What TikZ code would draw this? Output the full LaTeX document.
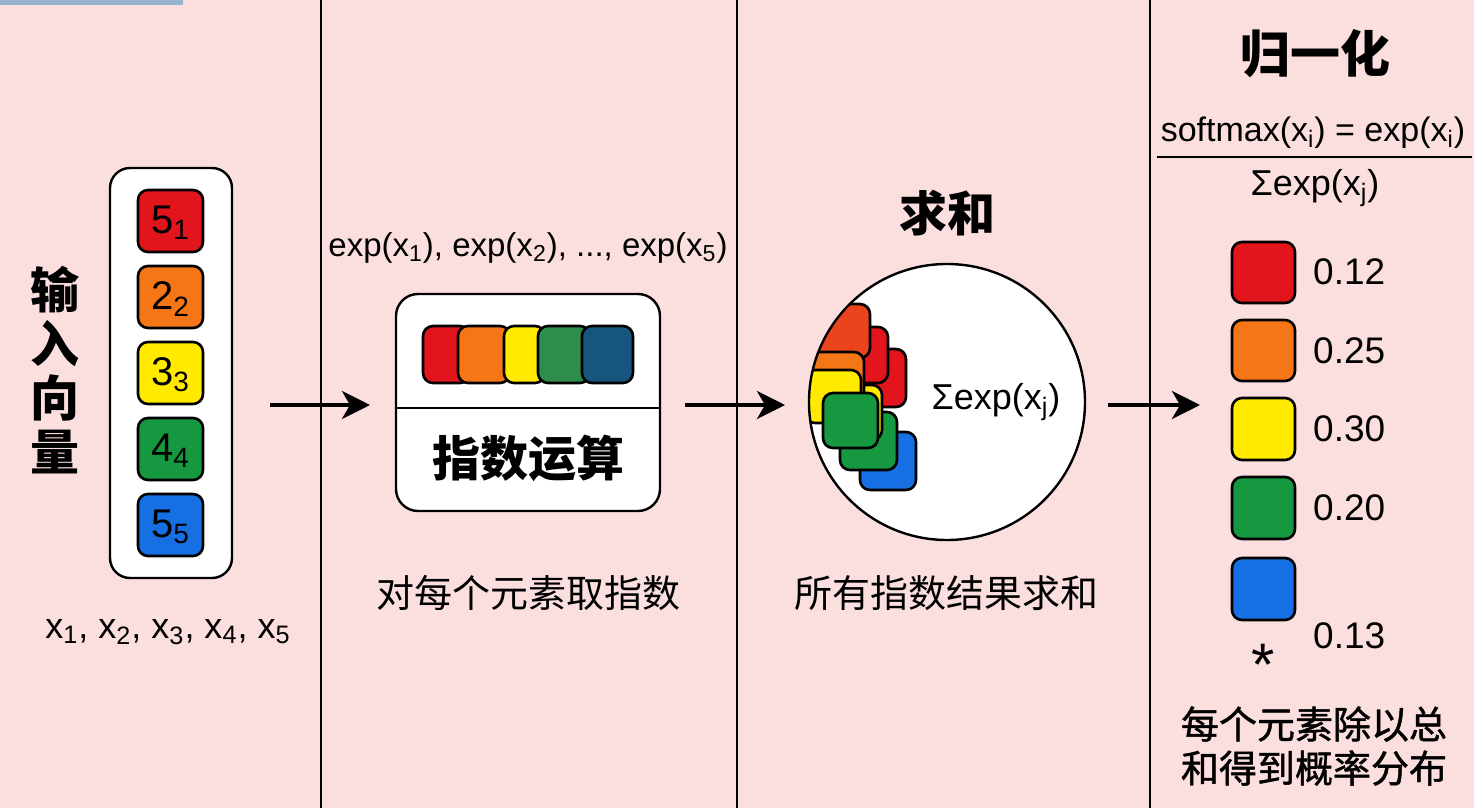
\documentclass[tikz,border=0pt]{standalone}
\usepackage{fontspec}
\setmainfont{Liberation Sans}
\newfontfamily\cjk{Noto Sans CJK SC}
\newfontfamily\cjkheavy{Noto Sans CJK SC}[FakeBold=1.2]
\usetikzlibrary{arrows.meta}
\definecolor{bgpink}{RGB}{250,223,222}
\definecolor{stripblue}{RGB}{150,180,205}
\definecolor{cred}{RGB}{226,20,28}
\definecolor{credtop}{RGB}{234,68,30}
\definecolor{corange}{RGB}{245,118,22}
\definecolor{cyellow}{RGB}{255,234,0}
\definecolor{cgreen}{RGB}{22,152,64}
\definecolor{cblue}{RGB}{22,112,228}
\definecolor{dgreen}{RGB}{46,140,76}
\definecolor{dblue}{RGB}{22,86,126}
\tikzset{
  chip/.style={draw=black, line width=1.3pt, rounded corners=5pt},
  flow/.style={line width=2pt, -{Stealth[length=14pt, width=14pt, inset=4pt]}},
  title/.style={inner sep=0pt, font=\cjk\bfseries\fontsize{24}{28}\selectfont},
  note/.style={inner sep=0pt, font=\cjk\fontsize{19}{22}\selectfont},
  formula/.style={inner sep=0pt, font=\fontsize{18}{21}\selectfont},
  digit/.style={inner sep=0pt, font=\fontsize{20}{22}\selectfont},
  prob/.style={inner sep=0pt, anchor=west, font=\fontsize{18.5}{21}\selectfont}
}
\begin{document}
\begin{tikzpicture}[x=0.5pt, y=-0.5pt, line width=1.2pt]
\fill[bgpink] (0,0) rectangle (1474,808);
\useasboundingbox (0,0) rectangle (1474,808);
\fill[stripblue] (0,0) rectangle (183,5);
% panel dividers
\draw[line width=1pt] (321,0) -- (321,808);
\draw[line width=1pt] (737,0) -- (737,808);
\draw[line width=1pt] (1150,0) -- (1150,808);
% Input
\begin{scope}
  \node[title, align=center, font=\cjk\bfseries\fontsize{24.5}{27}\selectfont] (intitle) at (55,370) {输\\入\\向\\量};
  \draw[fill=white, rounded corners=10pt] (110,168) rectangle (232,578);
  \draw[chip, fill=cred] (138,190) rectangle (203,252);
  \draw[chip, fill=corange] (138,266) rectangle (203,328);
  \draw[chip, fill=cyellow] (138,342) rectangle (203,404);
  \draw[chip, fill=cgreen] (138,418) rectangle (203,480);
  \draw[chip, fill=cblue] (138,494) rectangle (203,556);
  \node[digit] (v1) at (170.5,223) {5\textsubscript{1}};
  \node[digit] (v2) at (170.5,299) {2\textsubscript{2}};
  \node[digit] (v3) at (170.5,375) {3\textsubscript{3}};
  \node[digit] (v4) at (170.5,451) {4\textsubscript{4}};
  \node[digit] (v5) at (170.5,527) {5\textsubscript{5}};
  \node[formula] (inlist) at (168,632) {x\textsubscript{1}, x\textsubscript{2}, x\textsubscript{3}, x\textsubscript{4}, x\textsubscript{5}};
\end{scope}
\coordinate (a1s) at (270,405);
\coordinate (a1e) at (370,405);
\draw[flow] (a1s) -- (a1e);
% Exp
\begin{scope}
  \node[formula, font=\fontsize{16.5}{20}\selectfont] (explist) at (528,248) {exp(x\textsubscript{1}), exp(x\textsubscript{2}), ..., exp(x\textsubscript{5})};
  \draw[fill=white, rounded corners=11pt] (396,294) rectangle (660,511);
  \draw (396,408) -- (660,408);
  \draw[chip, fill=cred] (423,326) rectangle (470,383);
  \draw[chip, fill=corange] (458,326) rectangle (510,383);
  \draw[chip, fill=cyellow] (504,326) rectangle (545,383);
  \draw[chip, fill=dgreen] (538,326) rectangle (590,383);
  \draw[chip, fill=dblue] (582,326) rectangle (633,383);
  \node[title] (expop) at (528,458) {指数运算};
  \node[note] (expnote) at (528,593) {对每个元素取指数};
\end{scope}
\coordinate (a2s) at (685,405);
\coordinate (a2e) at (785,405);
\draw[flow] (a2s) -- (a2e);
% Sum
\begin{scope}
  \node[title] (sumtitle) at (947,213) {求和};
  \fill[white] (947,402) circle (69pt);
  \begin{scope}
    \clip (947,402) circle (69pt);
    \draw[chip, fill=cblue] (860,432) rectangle (916,490);
    \draw[chip, fill=cgreen] (840,412) rectangle (897,470);
    \draw[chip, fill=cred] (850,349) rectangle (906,407);
    \draw[chip, fill=cred] (832,327) rectangle (888,383);
    \draw[chip, fill=credtop] (810,304) rectangle (870,358);
    \draw[chip, fill=cyellow] (825,385) rectangle (882,440);
    \draw[chip, fill=corange] (808,352) rectangle (864,405);
    \draw[chip, fill=cyellow] (805,370) rectangle (861,423);
    \draw[chip, fill=cgreen] (823,393) rectangle (878,448);
  \end{scope}
  \draw (947,402) circle (69pt);
  \node[formula] (sumexp) at (996,402) {Σexp(x\textsubscript{j})};
  \node[note] (sumnote) at (946,593) {所有指数结果求和};
\end{scope}
\coordinate (a3s) at (1108,405);
\coordinate (a3e) at (1200,405);
\draw[flow] (a3s) -- (a3e);
% Normalize
\begin{scope}
  \node[title, font=\cjk\bfseries\fontsize{25}{28}\selectfont] (normtitle) at (1315,54) {归一化};
  \node[formula, font=\fontsize{17}{20}\selectfont] (softmax) at (1313,133) {softmax(x\textsubscript{i}) = exp(x\textsubscript{i})};
  \draw[line width=1pt] (1157,157) -- (1472,157);
  \node[formula] (denom) at (1315,188) {Σexp(x\textsubscript{j})};
  \draw[chip, fill=cred] (1232,242) rectangle (1295,303);
  \draw[chip, fill=corange] (1232,320) rectangle (1295,381);
  \draw[chip, fill=cyellow] (1232,398) rectangle (1295,460);
  \draw[chip, fill=cgreen] (1232,477) rectangle (1295,539);
  \draw[chip, fill=cblue] (1232,558) rectangle (1295,620);
  \node[prob] (p1) at (1312,272) {0.12};
  \node[prob] (p2) at (1312,351) {0.25};
  \node[prob] (p3) at (1312,429) {0.30};
  \node[prob] (p4) at (1312,508) {0.20};
  \node[prob] (p5) at (1312,636) {0.13};
  \node[inner sep=0pt, font=\fontsize{30}{32}\selectfont] (star) at (1263,665) {*};
  \node[note, align=center, font=\cjkheavy\fontsize{19}{22}\selectfont] (normnote) at (1314,746) {每个元素除以总\\和得到概率分布};
\end{scope}
\end{tikzpicture}
\end{document}
